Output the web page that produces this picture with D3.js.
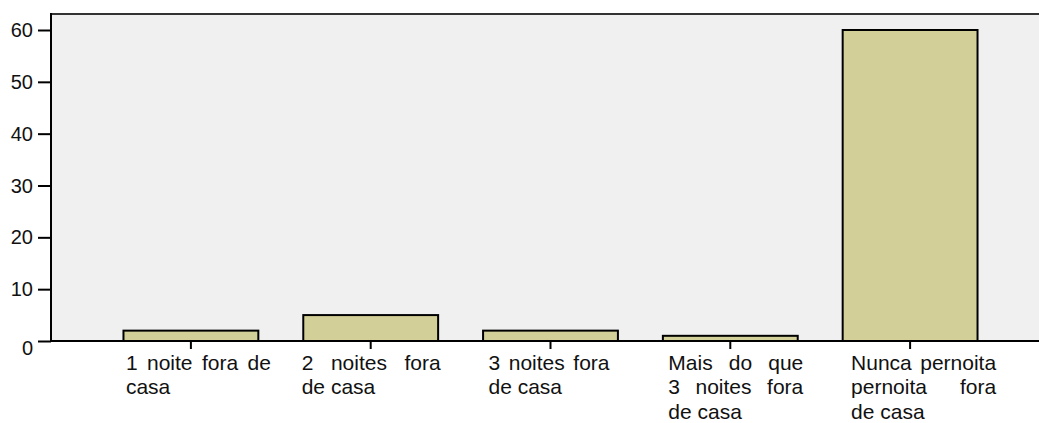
<!DOCTYPE html>
<meta charset="utf-8">
<style>
body { margin: 0; background: #fff; }
text { font-family: "Liberation Sans", Arial, sans-serif; fill: #111; }
</style>
<body>
<svg width="1039" height="423"></svg>
<script src="https://d3js.org/d3.v7.min.js"></script>
<script>
// data
const categories = [
  "1 noite fora de\ncasa",
  "2 noites fora\nde casa",
  "3 noites fora\nde casa",
  "Mais do que\n3 noites fora\nde casa",
  "Nunca pernoita\npernoita fora\nde casa"
];
const counts = [2, 5, 2, 1, 60];
const yTicks = [0, 10, 20, 30, 40, 50, 60];

// label boxes (left offset from tick, justify width) - layout only
const labelDx = [-65, -69, -62, -62, -59];
const labelW = [145, 139, 121, 135, 145];

var svg = d3.select("svg"),
    width = +svg.attr("width"),
    height = +svg.attr("height");

// note: "top" is taken by window.top, so use plotTop
var plotLeft = 51, plotTop = 14, base = 341;

var x = d3.scaleBand()
    .domain(d3.range(categories.length))
    .range([101, 1000])
    .paddingInner(0.25)
    .paddingOuter(0.125);

var y = d3.scaleLinear()
    .domain([0, 60])
    .range([base, 30]);

// plot background
svg.append("rect")
    .attr("x", plotLeft).attr("y", plotTop)
    .attr("width", width - plotLeft).attr("height", base - plotTop)
    .style("fill", "#f0f0f0");

// top frame line
svg.append("line")
    .attr("x1", plotLeft).attr("x2", width)
    .attr("y1", plotTop).attr("y2", plotTop)
    .style("stroke", "#333").style("stroke-width", 2);

// bars
svg.append("g")
  .selectAll("rect")
  .data(counts)
  .enter().append("rect")
    .attr("x", function(d, i) { return x(i); })
    .attr("y", function(d) { return y(d); })
    .attr("width", x.bandwidth())
    .attr("height", function(d) { return base - y(d); })
    .style("fill", "#d3cf98")
    .style("stroke", "#000")
    .style("stroke-width", 2);

// y axis
var yAxis = svg.append("g")
    .attr("transform", "translate(" + plotLeft + ",0)")
    .call(d3.axisLeft(y).tickValues(yTicks).tickSize(13).tickPadding(5).tickSizeOuter(0));
yAxis.select(".domain").remove();
yAxis.selectAll(".tick line").style("stroke", "#000").style("stroke-width", 2);
yAxis.selectAll(".tick text")
    .style("font-size", "20px")
    .attr("dy", function(d) { return d === 0 ? "0.67em" : "0.33em"; });

// x ticks
var xAxis = svg.append("g")
    .attr("transform", "translate(0," + base + ")")
    .call(d3.axisBottom(x).tickSize(8).tickFormat("").tickSizeOuter(0));
xAxis.select(".domain").remove();
xAxis.selectAll(".tick line").style("stroke", "#000").style("stroke-width", 2);

// axis lines
svg.append("line")
    .attr("x1", plotLeft).attr("x2", plotLeft).attr("y1", plotTop - 1).attr("y2", base + 1)
    .style("stroke", "#000").style("stroke-width", 2);
svg.append("line")
    .attr("x1", plotLeft).attr("x2", width).attr("y1", base).attr("y2", base)
    .style("stroke", "#000").style("stroke-width", 2);

// category labels, justified like the original
var labels = svg.append("g").style("font-size", "21px");

categories.forEach(function(cat, i) {
  var x0 = x(i) + x.bandwidth() / 2 + labelDx[i];
  var lines = cat.split("\n");
  lines.forEach(function(line, k) {
    var yy = 370 + k * 24.3;
    var words = line.split(" ");
    var last = k === lines.length - 1;
    if (last || words.length < 2) {
      labels.append("text").attr("x", x0).attr("y", yy).text(line);
      return;
    }
    var ws = words.map(function(w) {
      var t = labels.append("text").attr("x", 0).attr("y", -100).text(w);
      var len = t.node().getComputedTextLength();
      t.remove();
      return len;
    });
    var gap = (labelW[i] - d3.sum(ws)) / (words.length - 1);
    var cx = x0;
    words.forEach(function(w, j) {
      labels.append("text").attr("x", cx).attr("y", yy).text(w);
      cx += ws[j] + gap;
    });
  });
});
</script>
</body>
</html>
